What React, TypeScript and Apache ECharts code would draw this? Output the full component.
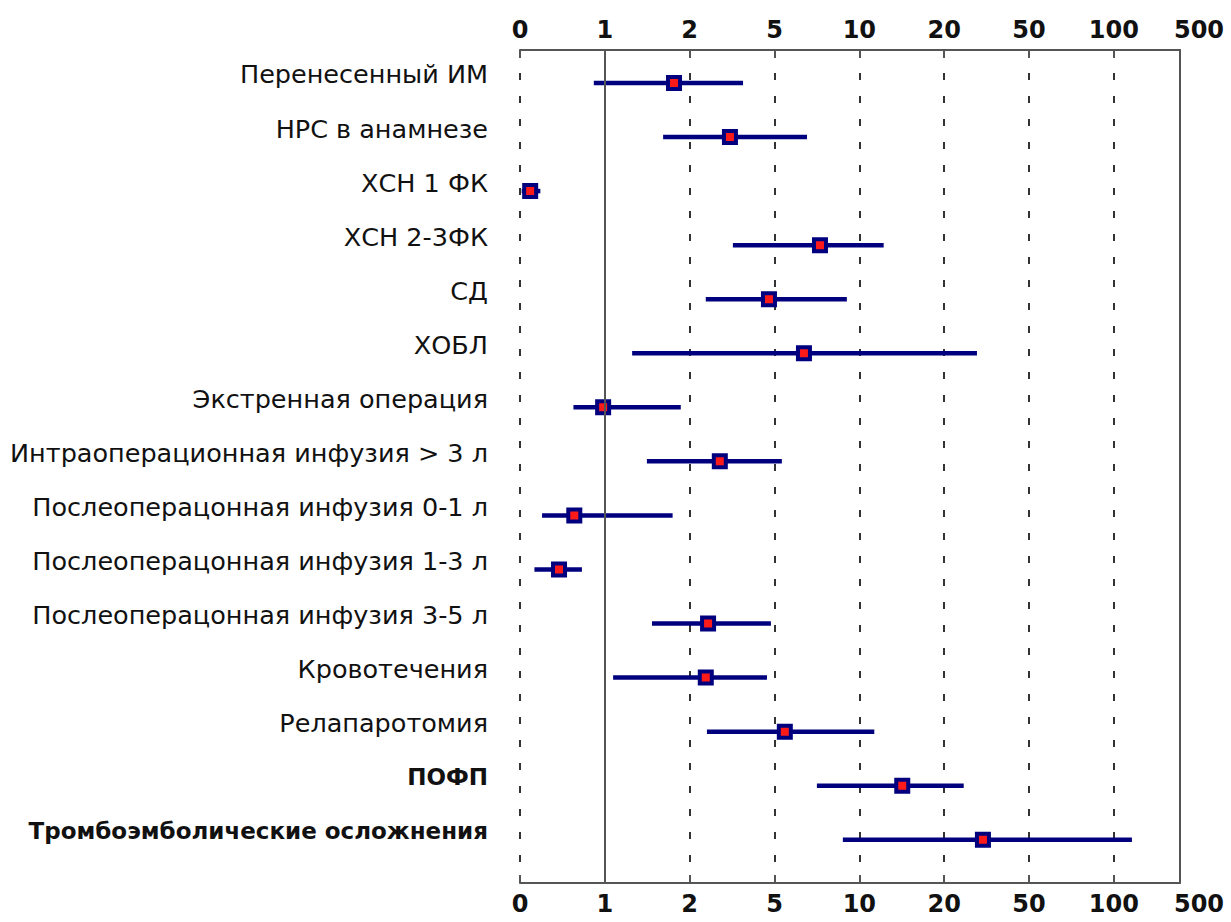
import React, { useEffect, useRef } from "react";
import * as echarts from "echarts";

// Categories (top to bottom)
const categories = [
  "Перенесенный ИМ",
  "НРС в анамнезе",
  "ХСН 1 ФК",
  "ХСН 2-3ФК",
  "СД",
  "ХОБЛ",
  "Экстренная операция",
  "Интраоперационная инфузия > 3 л",
  "Послеоперацонная инфузия 0-1 л",
  "Послеоперацонная инфузия 1-3 л",
  "Послеоперацонная инфузия 3-5 л",
  "Кровотечения",
  "Релапаротомия",
  "ПОФП",
  "Тромбоэмболические осложнения",
];

// Odds ratios and confidence limits
const pointOR = [1.76, 3.09, 0.12, 7.25, 4.71, 6.36, 0.98, 2.77, 0.64, 0.46, 2.44, 2.38, 5.44, 14.2, 30.4];
const lowerOR = [0.87, 1.61, 0.02, 3.19, 2.38, 1.25, 0.63, 1.41, 0.26, 0.17, 1.47, 1.07, 2.41, 7.07, 8.74];
const upperOR = [3.56, 6.52, 0.24, 12.2, 9.03, 28.5, 1.86, 5.31, 1.74, 0.73, 4.81, 4.61, 11.3, 24.7, 141];

// Axis tick labels (equally spaced positions 0..8)
const tickValues = [0, 1, 2, 5, 10, 20, 50, 100, 500];
const boldRows = ["ПОФП", "Тромбоэмболические осложнения"];

// Piecewise scale: linear 0..1, logarithmic between successive ticks above 1
function toPos(v: number): number {
  if (v <= 1) return v;
  for (let i = 1; i < tickValues.length - 1; i++) {
    const a = tickValues[i];
    const b = tickValues[i + 1];
    if (v <= b) return i + Math.log(v / a) / Math.log(b / a);
  }
  return tickValues.length - 1;
}

const X_MAX = 7.78;
const Y_MIN = -0.61;
const Y_MAX = 14.8;
const NAVY = "#00007f";

export default function App() {
  const ref = useRef<HTMLDivElement>(null);

  useEffect(() => {
    if (!ref.current) return;
    const chart = echarts.init(ref.current, undefined, { renderer: "svg" });

    const tickFormatter = (val: number) => {
      if (val > 7.5) return "{last|500}";
      const idx = Math.round(val);
      return "{n|" + String(tickValues[idx]) + "}";
    };
    const tickRich = {
      n: { fontFamily: "DejaVu Sans", fontWeight: "bold", fontSize: 24, color: "#111" },
      last: {
        fontFamily: "DejaVu Sans",
        fontWeight: "bold",
        fontSize: 24,
        color: "#111",
        padding: [0, 0, 0, 38],
      },
    };

    const baseX = {
      type: "value",
      min: 0,
      max: X_MAX,
      interval: 1,
      axisLine: { show: true, onZero: false, lineStyle: { color: "#555", width: 2 } },
      axisTick: { show: true, inside: true, length: 8, lineStyle: { color: "#555", width: 2 } },
      axisLabel: { formatter: tickFormatter, rich: tickRich, showMaxLabel: true, showMinLabel: true },
    };

    const option = {
      animation: false,
      backgroundColor: "#ffffff",
      grid: { left: 520, right: 51, top: 50, bottom: 39, containLabel: false },
      xAxis: [
        {
          ...baseX,
          position: "bottom",
          axisLabel: { ...baseX.axisLabel, margin: 9 },
          splitLine: { show: true, lineStyle: { color: "#333", width: 2, type: [7, 16] } },
        },
        {
          ...baseX,
          position: "top",
          axisLabel: { ...baseX.axisLabel, margin: 8 },
          splitLine: { show: false },
        },
      ],
      yAxis: [
        {
          type: "value",
          inverse: true,
          min: Y_MIN,
          max: Y_MAX,
          axisLine: { show: false, onZero: false },
          axisTick: { show: false },
          splitLine: { show: false },
          axisLabel: {
            customValues: categories.map((_, i) => i),
            margin: 32,
            padding: [0, 0, 17, 0],
            formatter: (v: number) => {
              const name = categories[Math.round(v)] ?? "";
              return boldRows.includes(name) ? "{b|" + name + "}" : "{r|" + name + "}";
            },
            rich: {
              r: { fontFamily: "DejaVu Sans", fontSize: 25.5, color: "#111" },
              b: { fontFamily: "DejaVu Sans", fontWeight: "bold", fontSize: 23, color: "#111" },
            },
          },
        },
        {
          type: "value",
          inverse: true,
          min: Y_MIN,
          max: Y_MAX,
          position: "right",
          axisLine: { show: true, onZero: false, lineStyle: { color: "#555", width: 2 } },
          axisTick: { show: false },
          axisLabel: { show: false },
          splitLine: { show: false },
        },
      ],
      series: [
        {
          type: "line",
          data: [],
          z: 1,
          markLine: {
            silent: true,
            symbol: ["none", "none"],
            label: { show: false },
            lineStyle: { color: "#555", type: "solid", width: 2 },
            data: [{ xAxis: 1 }],
          },
        },
        {
          type: "custom",
          z: 3,
          encode: { x: [0, 1], y: 2 },
          data: categories.map((_, i) => [toPos(lowerOR[i]), toPos(upperOR[i]), i]),
          renderItem: (params: any, api: any) => {
            const y = api.value(2);
            const p1 = api.coord([api.value(0), y]);
            const p2 = api.coord([api.value(1), y]);
            return {
              type: "line",
              shape: { x1: p1[0], y1: p1[1], x2: p2[0], y2: p2[1] },
              style: { stroke: NAVY, lineWidth: 4.5 },
            };
          },
        },
        {
          type: "scatter",
          z: 4,
          symbol: "rect",
          symbolSize: 12,
          itemStyle: { color: "#ff1a1a", borderColor: NAVY, borderWidth: 4, opacity: 1 },
          data: categories.map((_, i) => [toPos(pointOR[i]), i]),
        },
      ],
    };

    chart.setOption(option as any);
    return () => chart.dispose();
  }, []);

  return (
    <div
      ref={ref}
      style={{ position: "absolute", left: 0, top: 0, width: 1231, height: 922, background: "#fff" }}
    />
  );
}
